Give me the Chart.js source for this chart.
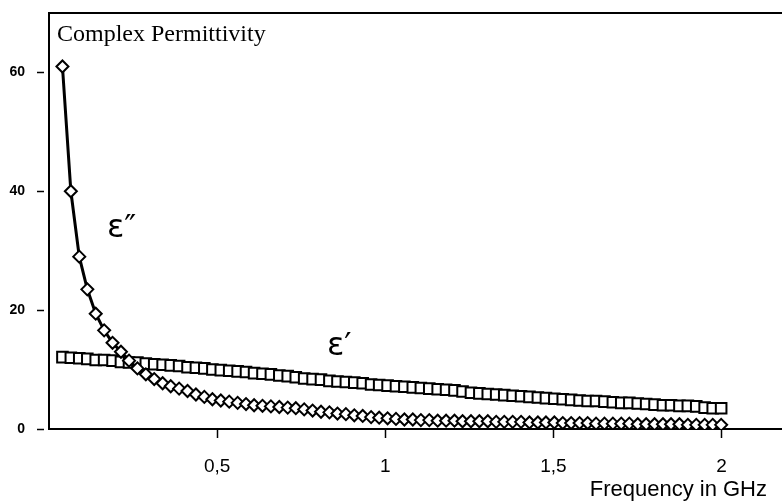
<!DOCTYPE html>
<html>
<head>
<meta charset="utf-8">
<title>Complex Permittivity</title>
<script src="https://cdn.jsdelivr.net/npm/chart.js@4.4.1/dist/chart.umd.min.js"></script>
<style>
  html, body { margin: 0; padding: 0; background: #fff; }
  #wrap { width: 782px; height: 503px; }
</style>
</head>
<body>
<div id="wrap"><canvas id="permChart" width="782" height="503"></canvas></div>
<script>
/* ── DATA ──────────────────────────────────────────── */
// sweep frequencies (GHz)
const freqGHz = [
    0.040, 0.065, 0.090, 0.114, 0.139, 0.164, 0.189, 0.214, 0.238, 0.263,
    0.288, 0.313, 0.338, 0.362, 0.387, 0.412, 0.437, 0.462, 0.486, 0.511,
    0.536, 0.561, 0.586, 0.610, 0.635, 0.660, 0.685, 0.710, 0.734, 0.759,
    0.784, 0.809, 0.834, 0.858, 0.883, 0.908, 0.933, 0.958, 0.982, 1.007,
    1.032, 1.057, 1.082, 1.106, 1.131, 1.156, 1.181, 1.206, 1.230, 1.255,
    1.280, 1.305, 1.330, 1.354, 1.379, 1.404, 1.429, 1.454, 1.478, 1.503,
    1.528, 1.553, 1.578, 1.602, 1.627, 1.652, 1.677, 1.702, 1.726, 1.751,
    1.776, 1.801, 1.826, 1.850, 1.875, 1.900, 1.925, 1.950, 1.974, 1.999
];

// ε'' (loss part, diamonds + line)
const epsImag = [
    61.0, 40.0, 29.0, 23.5, 19.4, 16.6, 14.5, 13.0, 11.5, 10.2,
    9.2, 8.4, 7.7, 7.2, 6.8, 6.4, 5.8, 5.4, 5.0, 4.8,
    4.6, 4.4, 4.2, 4.0, 3.9, 3.8, 3.7, 3.6, 3.5, 3.3,
    3.1, 2.9, 2.8, 2.6, 2.5, 2.3, 2.2, 2.0, 1.9, 1.8,
    1.7, 1.6, 1.6, 1.5, 1.5, 1.4, 1.4, 1.4, 1.3, 1.3,
    1.3, 1.3, 1.2, 1.2, 1.2, 1.2, 1.1, 1.1, 1.1, 1.1,
    1.0, 1.0, 1.0, 1.0, 0.9, 0.9, 0.9, 0.9, 0.9, 0.8,
    0.8, 0.8, 0.8, 0.8, 0.8, 0.7, 0.7, 0.7, 0.7, 0.7
];

// ε' (real part, squares)
const epsReal = [
    12.1, 12.0, 11.9, 11.8, 11.6, 11.6, 11.5, 11.3, 11.2, 11.2,
    11.0, 10.9, 10.8, 10.7, 10.6, 10.4, 10.3, 10.2, 10.0, 9.9,
    9.8, 9.7, 9.6, 9.4, 9.3, 9.2, 9.0, 8.9, 8.7, 8.5,
    8.4, 8.3, 8.1, 8.0, 7.9, 7.8, 7.7, 7.5, 7.4, 7.3,
    7.2, 7.1, 7.0, 6.9, 6.8, 6.7, 6.6, 6.5, 6.3, 6.1,
    6.0, 5.9, 5.8, 5.7, 5.6, 5.5, 5.4, 5.3, 5.2, 5.1,
    5.0, 4.9, 4.8, 4.7, 4.7, 4.6, 4.5, 4.4, 4.4, 4.3,
    4.2, 4.1, 4.0, 4.0, 3.9, 3.9, 3.8, 3.6, 3.5, 3.5
];

const xTickValues = [0.5, 1, 1.5, 2];
const yTickValues = [0, 20, 40, 60];

/* ── TEXT + FRAME ──────────────────────────────────── */
const annotatePlugin = {
    id: 'annotate',
    afterDraw(chart) {
        const { ctx, chartArea, scales } = chart;
        ctx.save();

        // top frame line
        ctx.strokeStyle = '#000';
        ctx.lineWidth = 2;
        ctx.beginPath();
        ctx.moveTo(chartArea.left, chartArea.top);
        ctx.lineTo(chartArea.right, chartArea.top);
        ctx.stroke();

        ctx.fillStyle = '#000';
        ctx.textBaseline = 'alphabetic';
        ctx.textAlign = 'left';

        ctx.font = '24px "Liberation Serif"';
        ctx.fillText('Complex Permittivity', chartArea.left + 8, chartArea.top + 28);

        // curve labels, placed in data units
        ctx.font = '32px "DejaVu Sans"';
        ctx.fillText('ε″', scales.x.getPixelForValue(0.1725), scales.y.getPixelForValue(32.3));
        ctx.fillText('ε′', scales.x.getPixelForValue(0.827), scales.y.getPixelForValue(12.45));

        // axis title
        ctx.font = '22px "Liberation Sans"';
        ctx.textAlign = 'right';
        ctx.fillText('Frequency in GHz', chart.width - 15, chart.height - 7);

        ctx.restore();
    }
};

/* ── CHART ─────────────────────────────────────────── */
const toPoints = vals => freqGHz.map((f, i) => ({ x: f, y: vals[i] }));

new Chart(document.getElementById('permChart'), {
    type: 'line',
    data: {
        datasets: [{
            label: "ε''",
            data: toPoints(epsImag),
            borderColor: '#000',
            borderWidth: 3,
            tension: 0,
            pointStyle: 'rectRot',
            pointRadius: 6,
            pointBorderWidth: 2,
            pointBorderColor: '#000',
            pointBackgroundColor: '#fff',
            order: 0
        }, {
            label: "ε'",
            data: toPoints(epsReal),
            showLine: false,
            pointStyle: 'rect',
            pointRadius: 7.5,
            pointBorderWidth: 2,
            pointBorderColor: '#000',
            pointBackgroundColor: '#fff',
            order: 1
        }]
    },
    options: {
        responsive: false,
        animation: false,
        layout: { autoPadding: false, padding: { top: 13, left: 0, right: 0, bottom: 0 } },
        plugins: {
            legend: { display: false },
            tooltip: { enabled: false }
        },
        scales: {
            x: {
                type: 'linear',
                min: 0,
                max: 2.18,
                afterFit: s => { s.height = 74; s.paddingLeft = 0; s.paddingRight = 0; },
                afterBuildTicks: s => { s.ticks = xTickValues.map(v => ({ value: v })); },
                ticks: {
                    callback: v => String(v).replace('.', ','),
                    font: { family: 'Liberation Sans', size: 19 },
                    color: '#000',
                    padding: 17,
                    maxRotation: 0,
                    autoSkip: false
                },
                grid: { drawOnChartArea: false, drawTicks: true, tickLength: 9, tickColor: '#000', tickWidth: 1.5 },
                border: { display: true, color: '#000', width: 2 }
            },
            y: {
                min: 0,
                max: 70,
                afterFit: s => { s.width = 49; s.paddingTop = 0; s.paddingBottom = 0; },
                afterBuildTicks: s => { s.ticks = yTickValues.map(v => ({ value: v })); },
                ticks: {
                    font: { family: 'Liberation Sans', size: 14, weight: 'bold' },
                    color: '#000',
                    padding: 12
                },
                grid: { drawOnChartArea: false, drawTicks: true, tickLength: 12, tickBorderDash: [7, 20], tickColor: '#000', tickWidth: 1.5 },
                border: { display: true, color: '#000', width: 2 }
            }
        }
    },
    plugins: [annotatePlugin]
});
</script>
</body>
</html>
